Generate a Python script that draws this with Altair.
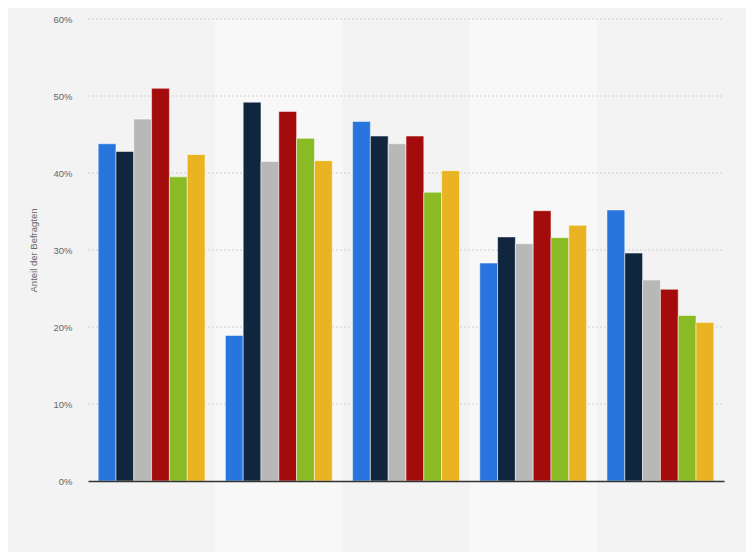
import altair as alt
import pandas as pd

groups = ["Gruppe 1", "Gruppe 2", "Gruppe 3", "Gruppe 4", "Gruppe 5"]
series = ["Serie 1", "Serie 2", "Serie 3", "Serie 4", "Serie 5", "Serie 6"]
colors = ["#2876dd", "#10263f", "#b8b8b8", "#a30b0d", "#8aba24", "#e9b321"]

values = [
    [43.8, 42.8, 47.0, 51.0, 39.5, 42.4],
    [18.9, 49.2, 41.5, 48.0, 44.5, 41.6],
    [46.7, 44.8, 43.8, 44.8, 37.5, 40.3],
    [28.3, 31.7, 30.8, 35.1, 31.6, 33.2],
    [35.2, 29.6, 26.1, 24.9, 21.5, 20.6],
]
band_groups = ["Gruppe 2", "Gruppe 4"]
grid_values = [0.1, 0.2, 0.3, 0.4, 0.5, 0.6]

rows = []
for g, vals in zip(groups, values):
    for s, v in zip(series, vals):
        rows.append({"group": g, "series": s, "value": v / 100})
df = pd.DataFrame(rows)
bands = pd.DataFrame({"group": band_groups})
grid_df = pd.DataFrame({"v": grid_values})

W, H = 636, 462

xenc = alt.X(
    "group:N",
    sort=groups,
    scale=alt.Scale(domain=groups, paddingInner=0.16, paddingOuter=0.08),
    axis=alt.Axis(labels=False, ticks=False, title=None, domain=True,
                  domainColor="#333333", domainWidth=1.5, grid=False, zindex=1),
)

yscale = alt.Scale(domain=[0, 0.6], nice=False)

band_layer = alt.Chart(bands).mark_bar(
    color="#f8f8f8", width=alt.RelativeBandSize(1.19)
).encode(
    x=xenc,
    y=alt.value(0),
    y2=alt.value(H + 80),
)

grid_layer = alt.Chart(grid_df).mark_rule(
    color="#d0d0d0", strokeDash=[2, 2], strokeWidth=1
).encode(
    y=alt.Y("v:Q", scale=yscale),
    x=alt.value(0),
    x2=alt.value(W),
)

bars = alt.Chart(df).mark_bar(stroke="#ffffff", strokeWidth=1, strokeOpacity=0.5).encode(
    x=xenc,
    xOffset=alt.XOffset("series:N", sort=series, scale=alt.Scale(paddingInner=0, paddingOuter=0)),
    y=alt.Y(
        "value:Q",
        scale=yscale,
        axis=alt.Axis(
            format=".0%",
            values=[0, 0.1, 0.2, 0.3, 0.4, 0.5, 0.6],
            title="Anteil der Befragten",
            titleFontSize=9.5,
            titleFontWeight="normal",
            titleColor="#666666",
            titleFont="Liberation Sans",
            titlePadding=14,
            labelFont="Liberation Sans",
            labelFontSize=9.5,
            labelColor="#666666",
            labelPadding=16,
            ticks=False,
            domain=False,
            grid=False,
        ),
    ),
    color=alt.Color("series:N", sort=series,
                    scale=alt.Scale(domain=series, range=colors), legend=None),
)

chart = alt.layer(band_layer, grid_layer, bars).properties(
    width=W,
    height=H,
    background="#f3f3f3",
    padding={"left": 80, "top": 11, "right": 22, "bottom": 71},
    autosize=alt.AutoSizeParams(type="none"),
).configure_view(stroke=None)

chart.save("out.html", embed_options={"renderer": "svg", "actions": False})
